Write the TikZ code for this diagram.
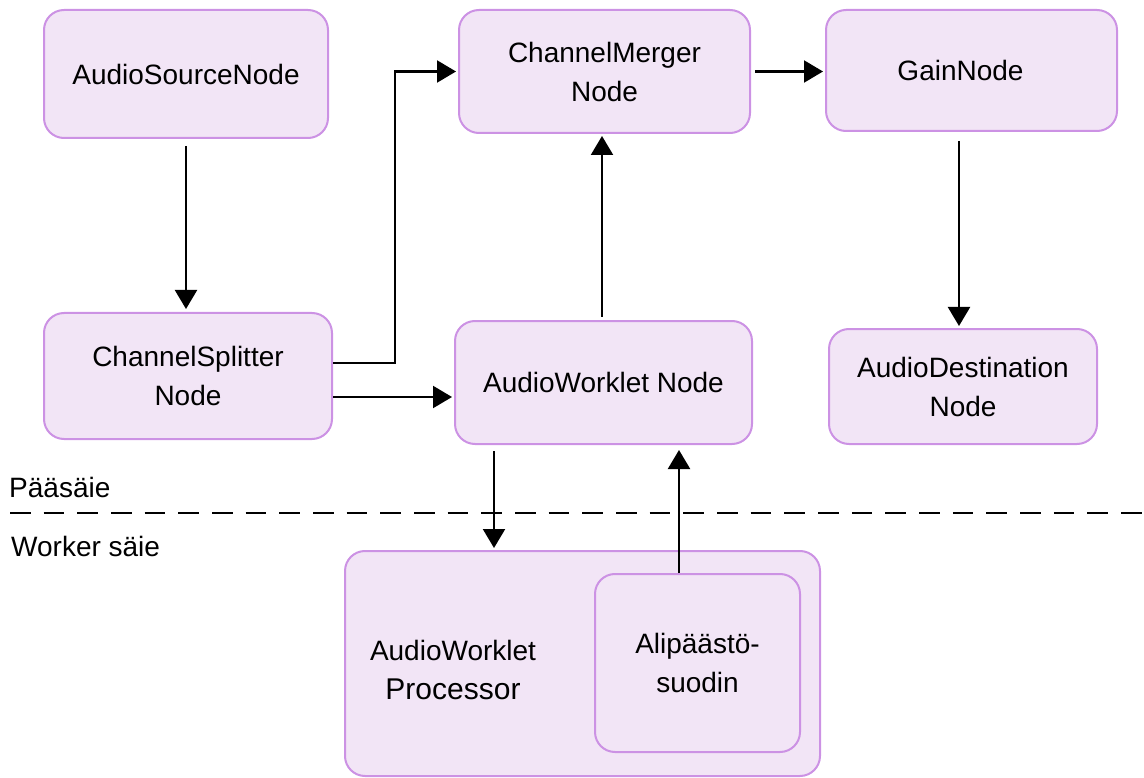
\documentclass[tikz,border=0pt]{standalone}
\usepackage{fontspec}
\setmainfont{Liberation Sans}
\usetikzlibrary{arrows.meta,calc}
\definecolor{boxfill}{RGB}{242,229,246}
\definecolor{boxline}{RGB}{204,146,228}
\tikzset{
  box/.style={draw=boxline, fill=boxfill, line width=2pt, rounded corners=20pt,
    align=center, inner sep=0pt, font=\fontsize{28}{39}\selectfont,
    execute at begin node={\vspace*{7pt}}},
  txt/.style={align=center, inner sep=0pt, font=\fontsize{28}{39}\selectfont},
  arr/.style={line width=2.2pt, -{Triangle[length=19pt,width=22pt]}},
  divider/.style={line width=2.2pt, dash pattern=on 20.5pt off 13.17pt}
}
\begin{document}
\begin{tikzpicture}[x=1pt,y=-1pt]
\useasboundingbox (0,0) rectangle (1144,778);
% nodes
\node[box, minimum width=284pt, minimum height=128pt] (src) at (186,74) {AudioSourceNode};
\node[box, minimum width=291pt, minimum height=123pt] (merger) at (604.5,71.5) {ChannelMerger\\Node};
\node[box, minimum width=291pt, minimum height=121pt] (gain) at (971.5,70.5) {GainNode\hspace*{22pt}};
\node[box, minimum width=288pt, minimum height=126pt] (splitter) at (188,376) {ChannelSplitter\\Node};
\node[box, minimum width=297pt, minimum height=123pt] (awn) at (603.5,382.5) {AudioWorklet Node};
\node[box, minimum width=268pt, minimum height=115pt] (dest) at (963,386.5) {AudioDestination\\Node};
\node[draw=boxline, fill=boxfill, line width=2pt, rounded corners=20pt, minimum width=475pt, minimum height=225pt] (proc) at (582.5,663.5) {};
\node[txt] (proctxt) at (453,670) {AudioWorklet\\{\fontsize{30}{39}\selectfont Processor}};
\node[box, minimum width=205pt, minimum height=178pt] (filt) at (697.5,663) {Alipäästö-\\suodin};
% thread labels
\node[txt, anchor=west] (main) at (9,487) {Pääsäie};
\node[txt, anchor=west] (worker) at (11,546) {Worker säie};
\draw[divider] (10,513) -- (1144,513);
% connectors
\draw[arr, shorten <=7pt, shorten >=3pt] (src.south) -- (splitter.north -| src.south);
\draw[arr, shorten >=2pt] ([yshift=13pt]splitter.east) -- ++(62,0) |- (merger.west);
\draw[arr, shorten >=2pt] ([yshift=-21pt]splitter.east) -- ([yshift=-21pt]splitter.east -| awn.west);
\draw[arr, shorten <=3pt, shorten >=2pt] ([xshift=-1.5pt]awn.north) -- ([xshift=-1.5pt]awn.north |- merger.south);
\draw[arr, shorten <=4pt, shorten >=2pt] (merger.east) -- (merger.east -| gain.west);
\draw[arr, shorten <=9pt, shorten >=2pt] ([xshift=-12.5pt]gain.south) -- ([xshift=-12.5pt]gain.south |- dest.north);
\draw[arr, shorten <=6pt, shorten >=2pt] ([xshift=-109.5pt]awn.south) -- ([xshift=-109.5pt]awn.south |- proc.north);
\draw[arr, shorten >=5pt] ([xshift=-18.5pt]filt.north) -- ([xshift=-18.5pt]filt.north |- awn.south);
\end{tikzpicture}
\end{document}
